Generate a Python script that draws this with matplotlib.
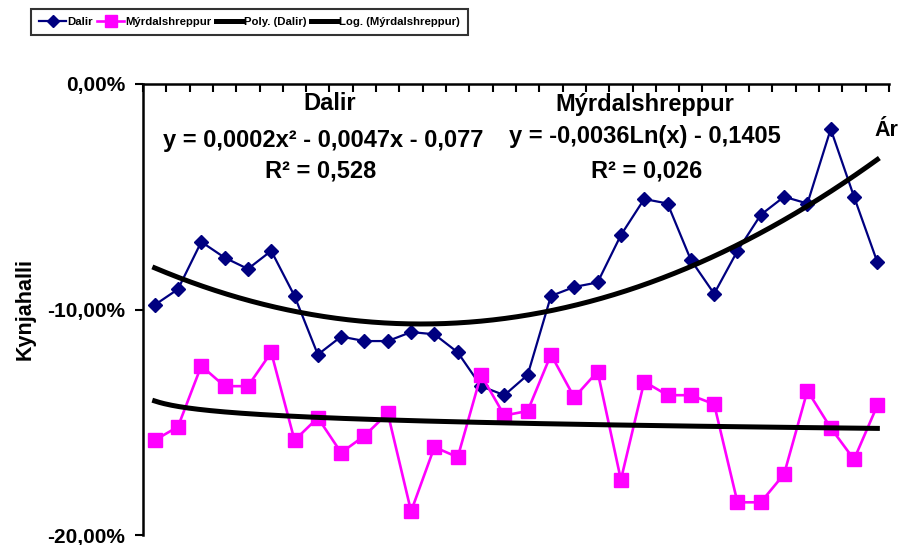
import numpy as np
import matplotlib
matplotlib.use("Agg")
import matplotlib.pyplot as plt
from matplotlib.lines import Line2D

plt.rcParams['font.family'] = ['Liberation Sans', 'DejaVu Sans']
plt.rcParams['font.weight'] = 'bold'

# kynjahalli (%) per year, 32 years
dalir = [-9.8, -9.1, -7.0, -7.7, -8.2, -7.4, -9.4, -12.0, -11.2, -11.4, -11.4, -11.0,
         -11.1, -11.9, -13.4, -13.8, -12.9, -9.4, -9.0, -8.8, -6.7, -5.1, -5.3, -7.8,
         -9.3, -7.4, -5.8, -5.0, -5.3, -2.0, -5.0, -7.9]
myrdal = [-15.8, -15.2, -12.5, -13.4, -13.4, -11.9, -15.8, -14.8, -16.35, -15.6, -14.6, -18.95,
          -16.1, -16.55, -12.9, -14.7, -14.5, -12.0, -13.9, -12.75, -17.55, -13.2, -13.8, -13.8,
          -14.2, -18.55, -18.55, -17.3, -13.6, -15.25, -16.65, -14.25]
yticks = [0, -10, -20]
ytick_labels = ['0,00%', '-10,00%', '-20,00%']

x = np.arange(1, len(dalir) + 1)

# trend lines (fitted on fractions like the spreadsheet does)
poly = np.polyfit(x, np.array(dalir) / 100, 2)
logc = np.polyfit(np.log(x), np.array(myrdal) / 100, 1)
xs = np.linspace(1, len(x), 300)
poly_y = np.polyval(poly, xs) * 100
log_y = (logc[0] * np.log(xs) + logc[1]) * 100

fig = plt.figure(figsize=(9.04, 5.45), dpi=100)
ax = fig.add_axes([143 / 904, 1 - 535 / 545, (889 - 143) / 904, (535 - 84) / 545])

ax.plot(x, dalir, color='#000080', lw=1.6, marker='D', ms=7.5, zorder=3)
ax.plot(x, myrdal, color='#FF00FF', lw=1.9, marker='s', ms=10.5, zorder=3)
ax.plot(xs, poly_y, color='black', lw=3.6, zorder=4)
ax.plot(xs, log_y, color='black', lw=3.6, zorder=4)

ax.set_xlim(0.5, len(x) + 0.5)
ax.set_ylim(-20, 0)
ax.xaxis.tick_top()
ax.set_xticks(np.arange(0.5, len(x) + 1, 1))
ax.tick_params(axis='x', direction='in', length=6, width=1.5, labeltop=False)
ax.set_yticks(yticks)
ax.set_yticklabels(ytick_labels, fontsize=15, fontweight='bold')
ax.tick_params(axis='y', direction='out', length=6, width=1.5, pad=7)
ax.spines['right'].set_visible(False)
ax.spines['bottom'].set_visible(False)
ax.spines['left'].set_linewidth(1.8)
ax.spines['top'].set_linewidth(1.8)
ax.spines['left'].set_zorder(5)
# centre the digits on the ticks (keeps the lowest label on the canvas)
for lbl in ax.get_yticklabels():
    lbl.set_va('center_baseline')

ax.set_ylabel('Kynjahalli', fontsize=15.5, fontweight='bold', labelpad=8)

# trend equations
tkw = dict(fontsize=17, fontweight='bold', ha='center', va='center', transform=fig.transFigure)
fig.text(330 / 904, 1 - 104 / 545, 'Dalir', **tkw)
fig.text(323 / 904, 1 - 140 / 545, 'y = 0,0002x² - 0,0047x - 0,077', **tkw)
fig.text(321 / 904, 1 - 171 / 545, 'R² = 0,528', **tkw)
fig.text(645 / 904, 1 - 105 / 545, 'Mýrdalshreppur', **tkw)
fig.text(645 / 904, 1 - 137 / 545, 'y = -0,0036Ln(x) - 0,1405', **tkw)
fig.text(647 / 904, 1 - 171 / 545, 'R² = 0,026', **tkw)
fig.text(886 / 904, 1 - 130 / 545, 'Ár', fontsize=15.5, fontweight='bold', ha='center', va='center')

handles = [
    Line2D([], [], color='#000080', lw=1.6, marker='D', ms=6.5),
    Line2D([], [], color='#FF00FF', lw=1.9, marker='s', ms=8),
    Line2D([], [], color='black', lw=3.6),
    Line2D([], [], color='black', lw=3.6),
]
labels = ['Dalir', 'Mýrdalshreppur', 'Poly. (Dalir)', 'Log. (Mýrdalshreppur)']
leg = fig.legend(handles, labels, loc='upper left', bbox_to_anchor=(31 / 904, 1 - 9 / 545),
                 ncol=4, frameon=True, fancybox=False, handlelength=2.4,
                 prop={'size': 8.2, 'weight': 'bold'},
                 handletextpad=0.1, columnspacing=0.35, borderpad=0.7, borderaxespad=0)
leg.get_frame().set_edgecolor('black')
leg.get_frame().set_linewidth(1.5)

fig.savefig('out.png', dpi=100)
